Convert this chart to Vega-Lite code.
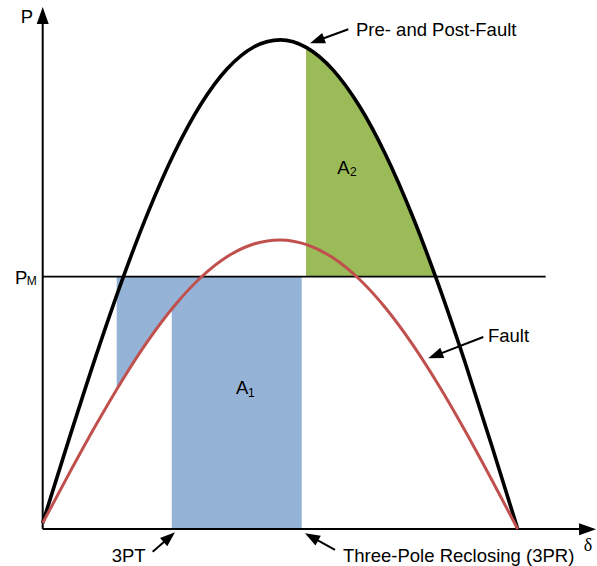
{
  "$schema": "https://vega.github.io/schema/vega-lite/v6.json",
  "width": 597,
  "height": 566,
  "autosize": {"type": "fit", "contains": "padding"},
  "padding": 0,
  "background": "white",
  "config": {"view": {"stroke": null}},
  "datasets": {
    "black": [
      {"d": 0, "p": 0.0123}, {"d": 10, "p": 0.1842}, {"d": 20, "p": 0.3509}, {"d": 30, "p": 0.5073},
      {"d": 40, "p": 0.6485}, {"d": 50, "p": 0.7703}, {"d": 60, "p": 0.869}, {"d": 70, "p": 0.9416},
      {"d": 80, "p": 0.9857}, {"d": 90, "p": 1.0002}, {"d": 100, "p": 0.9844}, {"d": 110, "p": 0.9389},
      {"d": 120, "p": 0.8649}, {"d": 130, "p": 0.7648}, {"d": 140, "p": 0.6416}, {"d": 150, "p": 0.4991},
      {"d": 160, "p": 0.3414}, {"d": 170, "p": 0.1733}, {"d": 180, "p": 0}
    ],
    "red": [
      {"d": 0, "p": 0.0123}, {"d": 10, "p": 0.1132}, {"d": 20, "p": 0.211}, {"d": 30, "p": 0.3028},
      {"d": 40, "p": 0.3856}, {"d": 50, "p": 0.457}, {"d": 60, "p": 0.5148}, {"d": 70, "p": 0.5572},
      {"d": 80, "p": 0.5829}, {"d": 90, "p": 0.5912}, {"d": 100, "p": 0.5816}, {"d": 110, "p": 0.5545},
      {"d": 120, "p": 0.5107}, {"d": 130, "p": 0.4515}, {"d": 140, "p": 0.3787}, {"d": 150, "p": 0.2946},
      {"d": 160, "p": 0.2015}, {"d": 170, "p": 0.1023}, {"d": 180, "p": 0}
    ],
    "blueLeft": [
      {"d": 28.04, "p": 0.2854, "p2": 0.516}, {"d": 32, "p": 0.3201, "p2": 0.516},
      {"d": 36, "p": 0.3537, "p2": 0.516}, {"d": 40, "p": 0.3856, "p2": 0.516},
      {"d": 44, "p": 0.4157, "p2": 0.516}, {"d": 49.11, "p": 0.4511, "p2": 0.516}
    ],
    "blueRight": [{"d": 48.9, "d2": 98.15, "p": 0, "p2": 0.516}],
    "green": [
      {"d": 99.78, "p": 0.985, "p2": 0.516}, {"d": 105, "p": 0.9652, "p2": 0.516},
      {"d": 110, "p": 0.9389, "p2": 0.516}, {"d": 115, "p": 0.9053, "p2": 0.516},
      {"d": 120, "p": 0.8649, "p2": 0.516}, {"d": 125, "p": 0.818, "p2": 0.516},
      {"d": 130, "p": 0.7648, "p2": 0.516}, {"d": 135, "p": 0.706, "p2": 0.516},
      {"d": 140, "p": 0.6416, "p2": 0.516}, {"d": 145, "p": 0.5725, "p2": 0.516},
      {"d": 148.9, "p": 0.516, "p2": 0.516}
    ],
    "pm": [{"d": 0, "p": 0.516, "d2": 190.6, "p2": 0.516}],
    "axes": [
      {"d": 0, "p": 0, "d2": 205, "p2": 0},
      {"d": 0, "p": 0, "d2": 0, "p2": 1.043}
    ],
    "arrows": [
      {"d": 115.81, "p": 1.0219, "d2": 103.43, "p2": 0.9975},
      {"d": 166.96, "p": 0.3926, "d2": 148.24, "p2": 0.3536},
      {"d": 41.68, "p": -0.0464, "d2": 48.43, "p2": -0.0147},
      {"d": 110.77, "p": -0.0429, "d2": 101.37, "p2": -0.0147}
    ],
    "labels": [
      {"d": -8.34, "p": 1.034, "t": "P"},
      {"d": -10.5, "p": 0.502, "t": "P"},
      {"d": 111.64, "p": 0.726, "t": "A"},
      {"d": 73.25, "p": 0.2755, "t": "A"},
      {"d": 118.73, "p": 1.008, "t": "Pre- and Post-Fault"},
      {"d": 168.74, "p": 0.383, "t": "Fault"},
      {"d": 26.15, "p": -0.0675, "t": "3PT"},
      {"d": 113.8, "p": -0.0675, "t": "Three-Pole Reclosing (3PR)"}
    ],
    "subs": [
      {"d": -6.06, "p": 0.499, "t": "M"},
      {"d": 116.45, "p": 0.7219, "t": "2"},
      {"d": 77.8, "p": 0.2706, "t": "1"}
    ],
    "delta": [{"d": 206.6, "p": -0.046, "t": "δ"}]
  },
  "encoding": {
    "x": {"field": "d", "type": "quantitative", "scale": {"domain": [-16.18, 210.05], "nice": false, "zero": false}, "axis": null},
    "y": {"field": "p", "type": "quantitative", "scale": {"domain": [-0.0757, 1.0818], "nice": false, "zero": false}, "axis": null}
  },
  "layer": [
    {"data": {"name": "blueRight"}, "mark": {"type": "rect", "color": "#95B3D7"}, "encoding": {"x2": {"field": "d2"}, "y2": {"field": "p2"}}},
    {"data": {"name": "blueLeft"}, "mark": {"type": "area", "orient": "vertical", "color": "#95B3D7", "interpolate": "monotone", "opacity": 1}, "encoding": {"y2": {"field": "p2"}}},
    {"data": {"name": "green"}, "mark": {"type": "area", "orient": "vertical", "color": "#9BBB59", "interpolate": "monotone", "opacity": 1}, "encoding": {"y2": {"field": "p2"}}},
    {"data": {"name": "pm"}, "mark": {"type": "rule", "color": "#000000", "strokeWidth": 1.6}, "encoding": {"x2": {"field": "d2"}, "y2": {"field": "p2"}}},
    {"data": {"name": "axes"}, "mark": {"type": "rule", "color": "#000000", "strokeWidth": 2}, "encoding": {"x2": {"field": "d2"}, "y2": {"field": "p2"}}},
    {"data": {"name": "black"}, "mark": {"type": "line", "color": "#000000", "strokeWidth": 3.6, "interpolate": "monotone"}, "encoding": {}},
    {"data": {"name": "red"}, "mark": {"type": "line", "color": "#C0504D", "strokeWidth": 3, "interpolate": "monotone"}, "encoding": {}},
    {"data": {"name": "arrows"}, "mark": {"type": "rule", "color": "#000000", "strokeWidth": 2}, "encoding": {"x2": {"field": "d2"}, "y2": {"field": "p2"}}},
    {"data": {"values": [{"d": 0, "p": 1.0675}]}, "mark": {"type": "point", "shape": "M0,0L6,17L-6,17Z", "size": 4, "angle": 0, "filled": true, "color": "#000000", "opacity": 1, "strokeWidth": 0}},
    {"data": {"values": [{"d": 209.7, "p": -0.0006}]}, "mark": {"type": "point", "shape": "M0,0L6,17L-6,17Z", "size": 4, "angle": 90, "filled": true, "color": "#000000", "opacity": 1, "strokeWidth": 0}},
    {"data": {"values": [{"d": 101.29, "p": 0.9933}]}, "mark": {"type": "point", "shape": "M0,0L5.5,15L-5.5,15Z", "size": 4, "angle": 249.9, "filled": true, "color": "#000000", "opacity": 1, "strokeWidth": 0}},
    {"data": {"values": [{"d": 146.12, "p": 0.3491}]}, "mark": {"type": "point", "shape": "M0,0L5.5,15L-5.5,15Z", "size": 4, "angle": 248.8, "filled": true, "color": "#000000", "opacity": 1, "strokeWidth": 0}},
    {"data": {"values": [{"d": 50.13, "p": -0.0067}]}, "mark": {"type": "point", "shape": "M0,0L5.5,15L-5.5,15Z", "size": 4, "angle": 49, "filled": true, "color": "#000000", "opacity": 1, "strokeWidth": 0}},
    {"data": {"values": [{"d": 99.4, "p": -0.0088}]}, "mark": {"type": "point", "shape": "M0,0L5.5,15L-5.5,15Z", "size": 4, "angle": 299.1, "filled": true, "color": "#000000", "opacity": 1, "strokeWidth": 0}},
    {"data": {"name": "labels"}, "mark": {"type": "text", "align": "left", "baseline": "alphabetic", "fontSize": 18.5, "font": "Liberation Sans", "color": "#000000"}, "encoding": {"text": {"field": "t"}}},
    {"data": {"name": "subs"}, "mark": {"type": "text", "align": "left", "baseline": "alphabetic", "fontSize": 12, "font": "Liberation Sans", "color": "#000000"}, "encoding": {"text": {"field": "t"}}},
    {"data": {"name": "delta"}, "mark": {"type": "text", "align": "center", "baseline": "alphabetic", "fontSize": 18, "font": "Liberation Serif", "color": "#000000"}, "encoding": {"text": {"field": "t"}}}
  ]
}
